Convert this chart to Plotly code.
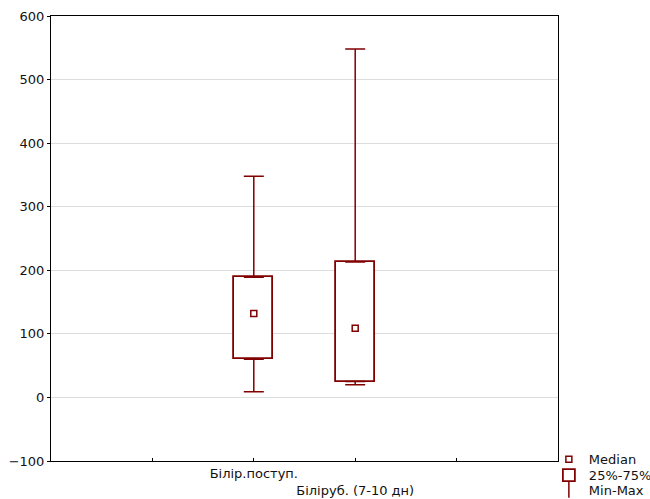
import plotly.graph_objects as go

categories = ["Білір.поступ.", "Біліруб. (7-10 дн)"]
positions = [2, 3]
mins = [9, 20]
q1 = [60, 25]
medians = [132, 109]
q3 = [189, 213]
maxs = [348, 548]
x_tickvals = [1, 2, 3, 4]
x_ticktext = ["", categories[0], "<br>" + categories[1], ""]
y_tickvals = [-100, 0, 100, 200, 300, 400, 500, 600]

C = "#800000"
FONT = dict(family="DejaVu Sans", size=13, color="#111111")

fig = go.Figure()

# Median markers
fig.add_trace(go.Scatter(
    x=positions, y=medians, mode="markers", name="Median",
    marker=dict(symbol="square", size=6, color="white", line=dict(color=C, width=1.5)),
    showlegend=True, legend="legend",
))

# Boxes 25%-75%
fig.add_trace(go.Bar(
    x=positions, base=q1, y=[b - a for a, b in zip(q1, q3)], width=0.385,
    name="25%-75%",
    marker=dict(color="white", line=dict(color=C, width=1.8)),
    showlegend=True, legend="legend2",
))

# Upper whiskers
fig.add_trace(go.Scatter(
    x=positions, y=q3, mode="markers",
    marker=dict(size=1, color="rgba(0,0,0,0)"),
    error_y=dict(type="data", symmetric=False,
                 array=[m - q for m, q in zip(maxs, q3)],
                 arrayminus=[0 for _ in q3],
                 color=C, thickness=1.5, width=10),
    showlegend=False, hoverinfo="skip",
))
# Lower whiskers
fig.add_trace(go.Scatter(
    x=positions, y=q1, mode="markers",
    marker=dict(size=1, color="rgba(0,0,0,0)"),
    error_y=dict(type="data", symmetric=False,
                 array=[0 for _ in q1],
                 arrayminus=[q - m for q, m in zip(q1, mins)],
                 color=C, thickness=1.5, width=10),
    showlegend=False, hoverinfo="skip",
))

# Legend entry for Min-Max
fig.add_trace(go.Scatter(
    x=[None], y=[None], mode="markers", name="Min-Max",
    marker=dict(symbol="line-ns-open", size=12, color=C, line=dict(color=C, width=1.5)),
    showlegend=True, legend="legend3",
))

leg_common = dict(x=0.982, xanchor="left", yanchor="middle",
                  font=dict(family="DejaVu Sans", size=13, color="#111111"),
                  bgcolor="rgba(0,0,0,0)", itemwidth=30)

fig.update_layout(
    width=650, height=499,
    margin=dict(l=51, r=92, t=16, b=38, autoexpand=False),
    paper_bgcolor="white", plot_bgcolor="white",
    font=FONT,
    bargap=0,
    legend=dict(y=0.004, **leg_common),
    legend2=dict(y=-0.032, **leg_common),
    legend3=dict(y=-0.064, **leg_common),
)
fig.update_xaxes(
    range=[0, 5], tickvals=x_tickvals, ticktext=x_ticktext, tickangle=0,
    showgrid=False, zeroline=False,
    showline=True, linecolor="black", linewidth=1, mirror=True,
    ticks="inside", ticklen=3, tickcolor="black",
)
fig.update_yaxes(
    range=[-100, 600], tickvals=y_tickvals,
    showgrid=True, gridcolor="#dcdcdc", gridwidth=1, zeroline=False,
    showline=True, linecolor="black", linewidth=1, mirror=True,
    ticks="outside", ticklen=3, tickcolor="black",
)

fig.write_html("out.html")
